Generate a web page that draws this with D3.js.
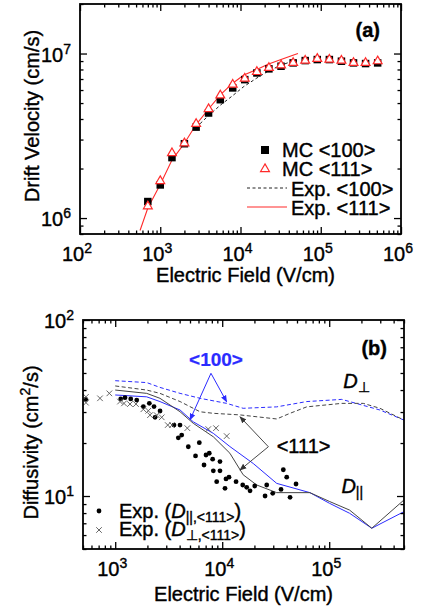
<!DOCTYPE html>
<html>
<head>
<meta charset="utf-8">
<script src="https://cdn.jsdelivr.net/npm/d3@7"></script>
<style>
  body { margin: 0; background: #fff; }
  text { font-family: "Liberation Sans", Arial, Helvetica, sans-serif; fill: #000; stroke: #000; stroke-width: 0.4px; }
</style>
</head>
<body>
<svg id="chart" width="435" height="615"></svg>
<script>
// ---- panel (a): drift velocity vs field ----
const fieldMC = [700, 1000, 1400, 2000, 2800, 4000, 5600, 8000, 11300, 16000, 22600, 32000, 45300, 64000, 90500, 128000, 181000, 256000, 362000, 512000];
const velMC100 = [1.26e6, 1.59e6, 2.33e6, 2.83e6, 3.57e6, 4.35e6, 5.24e6, 6.18e6, 6.94e6, 7.62e6, 8.07e6, 8.37e6, 8.77e6, 9.06e6, 9.19e6, 9.19e6, 8.98e6, 8.77e6, 8.69e6, 8.77e6];
const velMC111 = [1.18e6, 1.68e6, 2.48e6, 2.85e6, 3.74e6, 4.6e6, 5.57e6, 6.47e6, 7.04e6, 7.73e6, 8.18e6, 8.49e6, 8.77e6, 9.06e6, 9.29e6, 9.19e6, 9.06e6, 8.77e6, 8.77e6, 8.98e6];
const fieldExp100 = [2800, 4000, 5600, 8000, 11000, 16000, 22000, 32000, 45000, 50000];
const velExp100 = [3.55e6, 4.2e6, 4.85e6, 5.55e6, 6.3e6, 7.1e6, 7.8e6, 8.5e6, 9.0e6, 9.1e6];
const fieldExp111 = [560, 700, 1000, 1400, 2000, 2800, 4000, 5600, 8000, 11000, 16000, 22000, 32000, 45000, 52000];
const velExp111 = [8.4e5, 1.15e6, 1.6e6, 2.25e6, 2.85e6, 3.7e6, 4.6e6, 5.6e6, 6.6e6, 7.4e6, 8.0e6, 8.6e6, 9.2e6, 9.75e6, 1.0e7];

// ---- panel (b): diffusivity vs field ----
const fieldPerp100 = [1000, 1970, 2620, 4040, 6210, 11000, 15700, 32300, 61600, 131000, 298000, 500000];
const diffPerp100 = [45.2, 44.1, 41.4, 38.3, 35.9, 33.6, 31.5, 32.1, 34.4, 35.4, 30.8, 27.0];
const fieldPerp111 = [1000, 1970, 2620, 4040, 6210, 8260, 14600, 32300, 43000, 61600, 131000, 208000, 298000, 500000];
const diffPerp111 = [42.2, 40.0, 38.3, 34.4, 30.1, 29.5, 28.9, 27.4, 29.5, 32.1, 33.6, 33.6, 31.5, 27.0];
const fieldPar100 = [1000, 1970, 2620, 4040, 5360, 8260, 11800, 19500, 32300, 66000, 101000, 155000, 250000, 500000];
const diffPar100 = [37.5, 36.6, 34.4, 30.8, 26.4, 22.7, 19.1, 15.3, 11.8, 10.45, 9.08, 7.98, 6.56, 8.15];
const fieldPar111 = [1000, 1970, 2620, 4040, 5360, 8260, 11800, 15700, 21000, 32300, 66000, 101000, 155000, 250000, 500000];
const diffPar111 = [40.0, 38.3, 35.9, 30.1, 25.9, 21.7, 17.5, 13.2, 11.55, 10.45, 10.45, 9.3, 8.32, 6.56, 9.5];

const fieldDotPar = [530, 1126, 1235, 1397, 1589, 1832, 2084, 2305, 2357, 2625, 3544, 4033, 3888, 4183, 4820, 6110, 5630, 7058, 7570, 8140, 9530, 6760, 8260, 9530, 8880, 10850, 11570, 13470, 10620, 15550, 16940, 18200, 20130, 25150, 26060, 29650, 35460, 43050, 37250, 40060, 48960];
const diffDotPar = [35.4, 35.6, 36.2, 35.6, 35.1, 32.2, 33.6, 32.2, 28.0, 30.4, 25.3, 25.3, 21.4, 22.2, 19.05, 20.1, 16.9, 17.1, 17.5, 16.2, 15.7, 15.0, 13.9, 13.9, 12.06, 12.5, 12.8, 12.06, 11.06, 11.55, 11.2, 10.7, 11.4, 10.0, 11.55, 10.36, 10.9, 9.83, 14.1, 12.8, 11.7];
const fieldCrossPerp = [533, 533, 721, 881, 1109, 1208, 1374, 1563, 1832, 2038, 2115, 2442, 2721, 3097, 3399, 4720, 7410, 8750, 11010];
const diffCrossPerp = [36.6, 33.9, 35.9, 38.3, 34.4, 33.6, 33.3, 33.3, 31.1, 30.5, 28.8, 28.8, 28.0, 25.3, 25.3, 24.3, 24.0, 24.3, 21.9];

const xTicksA = [1e2, 1e3, 1e4, 1e5, 1e6];
const yTicksA = [1e6, 1e7];
const xTicksB = [1e3, 1e4, 1e5];
const yTicksB = [1e1, 1e2];

const svg = d3.select('#chart');
const RED = '#ff2a2a', BLUE = '#2b2bff', GREY = '#444';

svg.append('defs').selectAll('marker')
  .data([['arrBlue', BLUE], ['arrGrey', '#333']])
  .join('marker')
  .attr('id', d => d[0])
  .attr('viewBox', '0 0 10 10').attr('refX', 9).attr('refY', 5)
  .attr('markerWidth', 7).attr('markerHeight', 7).attr('markerUnits', 'userSpaceOnUse')
  .attr('orient', 'auto')
  .append('path').attr('d', 'M0,1 L10,5 L0,9 Z').attr('fill', d => d[1]);

function powLabel(g, x, y, exp, anchor) {
  const t = g.append('text').attr('x', x).attr('y', y).attr('text-anchor', anchor)
    .style('font-size', '20px');
  t.append('tspan').text('10');
  t.append('tspan').attr('dy', -8).style('font-size', '14px').text(exp);
}

function isPow10(v) { return Math.abs(Math.log10(v) - Math.round(Math.log10(v))) < 1e-6; }

// frame, inward ticks on all four sides, labels bottom/left
function drawFrame(g, x, y, w, h, xMajor, yMajor) {
  const xMinor = x.ticks().filter(v => !isPow10(v));
  const yMinor = y.ticks().filter(v => !isPow10(v));
  const strip = s => s.select('.domain').remove();
  const tk = s => s.selectAll('line').attr('stroke', '#000').attr('stroke-width', 1.3);

  g.append('g').attr('transform', `translate(0,${h})`).call(d3.axisBottom(x).tickValues(xMajor).tickSize(-7).tickFormat('')).call(strip).call(tk);
  g.append('g').attr('transform', `translate(0,${h})`).call(d3.axisBottom(x).tickValues(xMinor).tickSize(-3.5).tickFormat('')).call(strip).call(tk);
  g.append('g').call(d3.axisTop(x).tickValues(xMajor).tickSize(-7).tickFormat('')).call(strip).call(tk);
  g.append('g').call(d3.axisTop(x).tickValues(xMinor).tickSize(-3.5).tickFormat('')).call(strip).call(tk);
  g.append('g').call(d3.axisLeft(y).tickValues(yMajor).tickSize(-7).tickFormat('')).call(strip).call(tk);
  g.append('g').call(d3.axisLeft(y).tickValues(yMinor).tickSize(-3.5).tickFormat('')).call(strip).call(tk);
  g.append('g').attr('transform', `translate(${w},0)`).call(d3.axisRight(y).tickValues(yMajor).tickSize(-7).tickFormat('')).call(strip).call(tk);
  g.append('g').attr('transform', `translate(${w},0)`).call(d3.axisRight(y).tickValues(yMinor).tickSize(-3.5).tickFormat('')).call(strip).call(tk);

  g.append('rect').attr('width', w).attr('height', h)
    .attr('fill', 'none').attr('stroke', '#000').attr('stroke-width', 1.8);

  xMajor.forEach(v => powLabel(g, x(v) - 3, h + 27, Math.round(Math.log10(v)), 'middle'));
  yMajor.forEach(v => powLabel(g, -9, y(v) + 8, Math.round(Math.log10(v)), 'end'));
}

// ================= panel (a) =================
{
  const W = 321, H = 230;
  const g = svg.append('g').attr('transform', 'translate(80,4)');
  const x = d3.scaleLog().domain([1e2, 1e6]).range([0, W]);
  const y = d3.scaleLog().domain([8e5, 2e7]).range([H, 0]);

  g.append('clipPath').attr('id', 'clipA').append('rect').attr('width', W).attr('height', H);
  const line = d3.line().x(d => x(d[0])).y(d => y(d[1]));

  g.append('path').datum(d3.zip(fieldExp100, velExp100)).attr('d', line)
    .attr('fill', 'none').attr('stroke', '#222').attr('stroke-width', 1).attr('stroke-dasharray', '3,2.5');
  g.append('path').datum(d3.zip(fieldExp111, velExp111)).attr('d', line).attr('clip-path', 'url(#clipA)')
    .attr('fill', 'none').attr('stroke', RED).attr('stroke-width', 1.1);

  const sq = 7.5;
  g.selectAll('.sq').data(d3.zip(fieldMC, velMC100)).join('rect').attr('class', 'sq')
    .attr('x', d => x(d[0]) - sq / 2).attr('y', d => y(d[1]) - sq / 2)
    .attr('width', sq).attr('height', sq).attr('fill', '#000');
  const tri = d3.symbol().type(d3.symbolTriangle).size(34);
  g.selectAll('.tri').data(d3.zip(fieldMC, velMC111)).join('path').attr('class', 'tri')
    .attr('transform', d => `translate(${x(d[0])},${y(d[1])})`)
    .attr('d', tri).attr('fill', '#fff').attr('stroke', RED).attr('stroke-width', 1.2);

  drawFrame(g, x, y, W, H, xTicksA, yTicksA);

  g.append('text').attr('x', 300).attr('y', 33).attr('text-anchor', 'end').style('font-size', '20px').style('font-weight', 'bold').text('(a)');

  // legend
  const lg = g.append('g');
  lg.append('rect').attr('x', 181).attr('y', 142).attr('width', 8).attr('height', 8).attr('fill', '#000');
  lg.append('path').attr('transform', 'translate(185,165)').attr('d', tri).attr('fill', '#fff').attr('stroke', RED).attr('stroke-width', 1.2);
  lg.append('line').attr('x1', 167).attr('x2', 207).attr('y1', 184).attr('y2', 184)
    .attr('stroke', '#222').attr('stroke-dasharray', '3,2.5');
  lg.append('line').attr('x1', 167).attr('x2', 207).attr('y1', 203).attr('y2', 203).attr('stroke', RED).attr('stroke-width', 1.1);
  const lt = ['MC <100>', 'MC <111>', 'Exp. <100>', 'Exp. <111>'];
  const lx = [202, 202, 211, 211];
  lt.forEach((s, i) => lg.append('text').attr('x', lx[i]).attr('y', 153 + i * 19.3).style('font-size', '20px').text(s));

  g.append('text').attr('x', W / 2 + 5).attr('y', 278).attr('text-anchor', 'middle').style('font-size', '20px').text('Electric Field (V/cm)');
  g.append('text').attr('transform', `translate(-41,${H / 2 - 3}) rotate(-90)`).attr('text-anchor', 'middle').style('font-size', '20px').text('Drift Velocity (cm/s)');
}

// ================= panel (b) =================
{
  const W = 321, H = 229;
  const g = svg.append('g').attr('transform', 'translate(83,320)');
  const x = d3.scaleLog().domain([500, 5e5]).range([0, W]);
  const y = d3.scaleLog().domain([5, 100]).range([H, 0]);
  const line = d3.line().x(d => x(d[0])).y(d => y(d[1]));

  const series = [
    [fieldPerp100, diffPerp100, BLUE, '4,2.5'],
    [fieldPerp111, diffPerp111, GREY, '4,2.5'],
    [fieldPar100, diffPar100, BLUE, null],
    [fieldPar111, diffPar111, GREY, null]
  ];
  series.forEach(s => {
    g.append('path').datum(d3.zip(s[0], s[1])).attr('d', line)
      .attr('fill', 'none').attr('stroke', s[2]).attr('stroke-width', 1)
      .attr('stroke-dasharray', s[3]);
  });

  g.selectAll('.dot').data(d3.zip(fieldDotPar, diffDotPar)).join('circle').attr('class', 'dot')
    .attr('cx', d => x(d[0])).attr('cy', d => y(d[1])).attr('r', 2.4).attr('fill', '#000');
  const cross = d3.symbol().type(d3.symbolX).size(22);
  g.selectAll('.crs').data(d3.zip(fieldCrossPerp, diffCrossPerp)).join('path').attr('class', 'crs')
    .attr('transform', d => `translate(${x(d[0])},${y(d[1])})`)
    .attr('d', cross).attr('fill', 'none').attr('stroke', '#555').attr('stroke-width', 0.9);

  drawFrame(g, x, y, W, H, xTicksB, yTicksB);

  // annotations
  const fork100 = [7850, 49.8], fork111 = [27000, 19.05];
  [[5000, 27.1], [11000, 34.3]].forEach(t => g.append('line')
    .attr('x1', x(fork100[0])).attr('y1', y(fork100[1])).attr('x2', x(t[0])).attr('y2', y(t[1]))
    .attr('stroke', BLUE).attr('stroke-width', 1).attr('marker-end', 'url(#arrBlue)'));
  [[14650, 28.2], [14650, 14.05]].forEach(t => g.append('line')
    .attr('x1', x(fork111[0])).attr('y1', y(fork111[1])).attr('x2', x(t[0])).attr('y2', y(t[1]))
    .attr('stroke', '#333').attr('stroke-width', 0.9).attr('marker-end', 'url(#arrGrey)'));
  g.append('text').attr('x', x(8750)).attr('y', y(54.8)).attr('text-anchor', 'middle')
    .style('font-size', '19px').style('font-weight', 'bold').style('fill', BLUE).style('stroke', BLUE).style('stroke-width', '0.2px').text('<100>');
  g.append('text').attr('x', x(32300)).attr('y', y(17.6)).style('font-size', '20px').text('<111>');

  const dl = (xp, yp, sub) => {
    const t = g.append('text').attr('x', xp).attr('y', yp).style('font-size', '20px');
    t.append('tspan').style('font-style', 'italic').text('D');
    t.append('tspan').attr('dy', 4).style('font-size', '14px').text(sub);
  };
  dl(x(135000), y(41.1), '\u22A5');
  dl(x(130000), y(10.4), '||');

  g.append('text').attr('x', W - 17).attr('y', 35).attr('text-anchor', 'end').style('font-size', '20px').style('font-weight', 'bold').text('(b)');

  // legend
  const legY = [198, 216];
  g.append('circle').attr('cx', 16).attr('cy', legY[0] - 7).attr('r', 2.4).attr('fill', '#000');
  g.append('path').attr('transform', `translate(16,${legY[1] - 6})`).attr('d', cross).attr('fill', 'none').attr('stroke', '#555').attr('stroke-width', 0.9);
  const leg = (yp, sub) => {
    const t = g.append('text').attr('x', 36).attr('y', yp).style('font-size', '20px');
    t.append('tspan').text('Exp. (');
    t.append('tspan').style('font-style', 'italic').text('D');
    t.append('tspan').attr('dy', 4).style('font-size', '14px').text(sub + ',<111>');
    t.append('tspan').attr('dy', -4).text(')');
  };
  leg(legY[0], '||');
  leg(legY[1], '\u22A5');

  g.append('text').attr('x', W / 2 + 0).attr('y', 281).attr('text-anchor', 'middle').style('font-size', '20px').text('Electric Field (V/cm)');
  const yl = g.append('text').attr('transform', `translate(-45,${H / 2 + 8}) rotate(-90)`).attr('text-anchor', 'middle').style('font-size', '20px');
  yl.append('tspan').text('Diffusivity (cm');
  yl.append('tspan').attr('dy', -8).style('font-size', '14px').text('2');
  yl.append('tspan').attr('dy', 8).text('/s)');
}
</script>
</body>
</html>
